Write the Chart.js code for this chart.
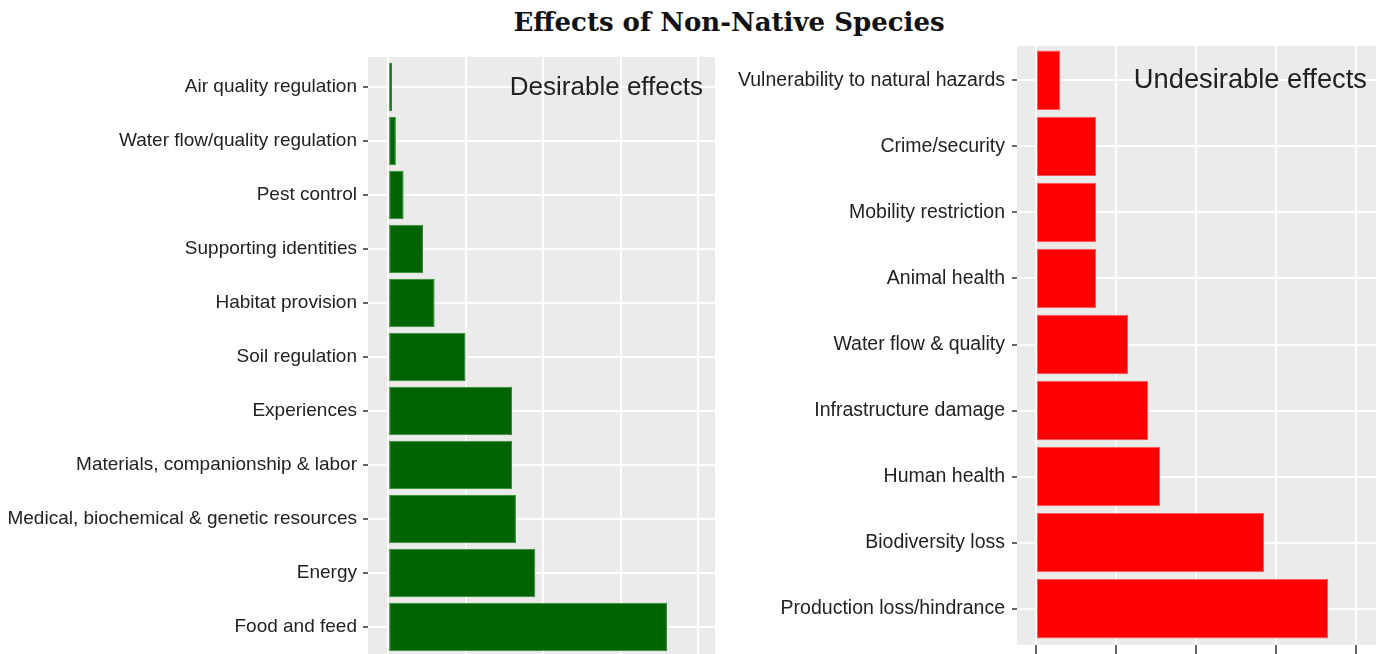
<!DOCTYPE html>
<html>
<head>
<meta charset="utf-8">
<script src="https://cdn.jsdelivr.net/npm/chart.js@4.4.1/dist/chart.umd.min.js"></script>
<style>
  html, body { margin: 0; padding: 0; background: #fff; overflow: hidden; width: 1376px; height: 654px; }
  #title { position: absolute; left: 0; width: 1458px; top: 7px; text-align: center;
           font: bold 26px "DejaVu Serif", serif; color: #111; }
  #leftBox { position: absolute; left: 0; top: 0; }
  #rightBox { position: absolute; left: 720px; top: 0; }
</style>
</head>
<body>
<div id="title">Effects of Non-Native Species</div>
<div id="leftBox"><canvas id="leftChart" width="720" height="700"></canvas></div>
<div id="rightBox"><canvas id="rightChart" width="680" height="680"></canvas></div>
<script>
// desirable effects (top to bottom)
const desirableLabels = [
    "Air quality regulation",
    "Water flow/quality regulation",
    "Pest control",
    "Supporting identities",
    "Habitat provision",
    "Soil regulation",
    "Experiences",
    "Materials, companionship & labor",
    "Medical, biochemical & genetic resources",
    "Energy",
    "Food and feed"
];
const desirableValues = [1, 2, 4, 9, 12, 20, 32, 32, 33, 38, 72];

// undesirable effects (top to bottom)
const undesirableLabels = [
    "Vulnerability to natural hazards",
    "Crime/security",
    "Mobility restriction",
    "Animal health",
    "Water flow & quality",
    "Infrastructure damage",
    "Human health",
    "Biodiversity loss",
    "Production loss/hindrance"
];
const undesirableValues = [6, 15, 15, 15, 23, 28, 31, 57, 73];

const gridTicks = [0, 20, 40, 60, 80];

const panelBg = {
    id: 'panelBg',
    beforeDraw(chart) {
        const a = chart.chartArea, ctx = chart.ctx;
        ctx.save();
        ctx.fillStyle = '#ebebeb';
        ctx.fillRect(a.left, a.top, a.right - a.left, a.bottom - a.top);
        ctx.restore();
    }
};

const panelLabel = {
    id: 'panelLabel',
    afterDatasetsDraw(chart, args, opts) {
        const ctx = chart.ctx;
        ctx.save();
        ctx.font = opts.size + 'px "Liberation Sans", Arial, sans-serif';
        ctx.fillStyle = '#222';
        ctx.textAlign = 'right';
        ctx.textBaseline = 'middle';
        ctx.fillText(opts.text, chart.chartArea.left + opts.dx, chart.scales.y.getPixelForValue(0) + opts.dy);
        ctx.restore();
    }
};

function makeChart(id, labels, values, color, cfg) {
    const ctx = document.getElementById(id).getContext("2d");
    return new Chart(ctx, {
        type: 'bar',
        data: {
            datasets: [{
                data: values.map((v, i) => ({ x: v, y: i })),
                backgroundColor: color,
                borderColor: cfg.edge,
                borderWidth: 1,
                borderSkipped: false,
                barPercentage: 0.9,
                categoryPercentage: 1.0
            }]
        },
        options: {
            indexAxis: 'y',
            responsive: false,
            animation: false,
            events: [],
            layout: { padding: { top: cfg.top, bottom: cfg.bottom, left: 0, right: cfg.right } },
            plugins: {
                legend: { display: false },
                tooltip: { enabled: false },
                panelLabel: { text: cfg.note, size: cfg.noteSize, dx: cfg.noteDx, dy: cfg.noteDy }
            },
            scales: {
                x: {
                    type: 'linear',
                    min: cfg.xMin,
                    max: cfg.xMax,
                    afterBuildTicks: s => { s.ticks = gridTicks.map(v => ({ value: v })); },
                    afterFit: s => { s.height = cfg.xAxisH; },
                    ticks: { display: false },
                    border: { display: false },
                    grid: {
                        color: '#ffffff',
                        lineWidth: 2,
                        drawTicks: cfg.xAxisH > 0,
                        tickLength: cfg.xAxisH,
                        tickColor: '#333',
                        tickWidth: 1.5
                    }
                },
                y: {
                    type: 'linear',
                    reverse: true,
                    offset: false,
                    min: cfg.yMin,
                    max: cfg.yMax,
                    afterBuildTicks: s => { s.ticks = labels.map((_, i) => ({ value: i })); },
                    afterFit: s => { s.width = cfg.yAxisW; },
                    border: { display: false },
                    grid: {
                        offset: false,
                        color: '#ffffff',
                        lineWidth: 2,
                        tickLength: 5,
                        tickColor: '#333',
                        tickWidth: 1.5
                    },
                    ticks: {
                        padding: cfg.labelPad,
                        color: '#222',
                        font: { family: '"Liberation Sans", Arial, sans-serif', size: cfg.labelSize },
                        callback: v => labels[v]
                    }
                }
            }
        },
        plugins: [panelBg, panelLabel]
    });
}

makeChart("leftChart", desirableLabels, desirableValues, '#006400', {
    edge: '#2f8a2f', top: 57, bottom: 43, right: 5, xAxisH: 0,
    xMin: -5.2, xMax: 84.4, yMin: -0.555, yMax: 10.555,
    yAxisW: 368, labelPad: 6, labelSize: 19,
    note: 'Desirable effects', noteSize: 26, noteDx: 335, noteDy: 1
});

makeChart("rightChart", undesirableLabels, undesirableValues, '#ff0000', {
    edge: '#ff5a5a', top: 46, bottom: 26, right: 0, xAxisH: 9,
    xMin: -4.75, xMax: 91, yMin: -0.52, yMax: 8.55,
    yAxisW: 297, labelPad: 7, labelSize: 19.5,
    note: 'Undesirable effects', noteSize: 27.3, noteDx: 350, noteDy: 0
});
</script>
</body>
</html>
